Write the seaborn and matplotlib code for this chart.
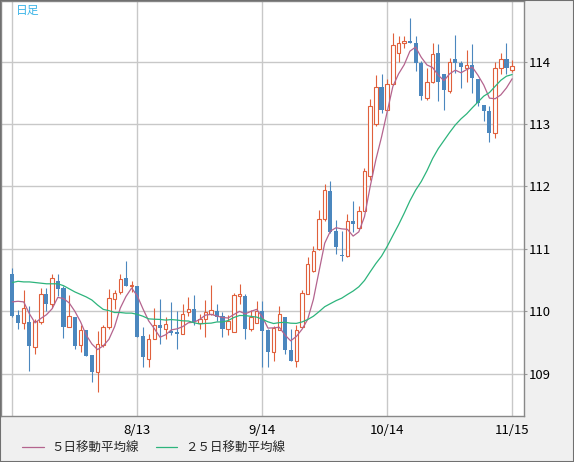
import numpy as np
import pandas as pd
import seaborn as sns
import matplotlib.pyplot as plt
from matplotlib.patches import Rectangle

# daily candles, index 0..88
opens = [110.60, 109.94, 109.81, 109.82, 109.43, 109.83, 110.27, 110.12, 110.48, 110.37,
         109.75, 109.90, 109.46, 109.70, 109.30, 109.02, 109.46, 109.74, 110.20, 110.31,
         110.53, 110.40, 110.40, 109.60, 109.24, 109.56, 109.78, 109.72, 109.69, 109.67,
         109.64, 109.98, 110.04, 109.81, 109.88, 109.96, 110.00, 109.93, 109.71, 109.67,
         110.25, 110.24, 109.71, 109.81, 110.00, 109.70, 109.35, 109.70, 109.91, 109.38,
         109.21, 109.75, 110.28, 110.65, 110.99, 111.48, 111.93, 111.28, 110.90, 110.88,
         111.45, 111.34, 111.61, 112.17, 113.00, 113.59, 113.22, 113.64, 114.14, 114.29,
         114.33, 114.30, 113.98, 113.41, 113.68, 114.13, 113.80, 113.53, 114.04, 113.98,
         113.90, 113.95, 113.72, 113.31, 113.21, 112.86, 113.89, 114.04, 113.86]
highs = [110.69, 110.02, 110.34, 110.08, 109.88, 110.38, 110.38, 110.60, 110.59, 110.40,
         110.26, 109.90, 109.78, 109.70, 109.30, 109.68, 109.78, 110.35, 110.34, 110.59,
         110.80, 110.49, 110.40, 109.75, 109.64, 110.06, 110.20, 109.91, 110.15, 110.00,
         110.12, 110.23, 110.26, 109.96, 110.18, 110.42, 110.12, 109.99, 109.94, 110.29,
         110.44, 110.28, 110.02, 110.16, 110.16, 109.72, 109.76, 110.08, 109.91, 109.71,
         109.78, 110.34, 110.87, 111.05, 111.62, 112.04, 112.08, 111.46, 111.29, 111.56,
         111.77, 111.69, 112.30, 113.40, 113.79, 113.80, 113.72, 114.45, 114.41, 114.41,
         114.69, 114.41, 114.01, 113.89, 114.29, 114.28, 113.80, 114.06, 114.42, 114.01,
         114.19, 114.28, 113.72, 113.31, 113.29, 114.00, 114.13, 114.29, 114.02]
lows = [109.90, 109.71, 109.71, 109.05, 109.31, 109.79, 110.00, 110.06, 110.24, 109.57,
        109.74, 109.39, 109.35, 109.29, 108.86, 108.71, 109.43, 109.71, 110.03, 110.28,
        110.40, 110.31, 109.59, 109.11, 109.11, 109.56, 109.48, 109.56, 109.62, 109.39,
        109.64, 109.92, 109.78, 109.72, 109.58, 109.94, 109.85, 109.59, 109.62, 109.67,
        110.12, 109.56, 109.69, 109.81, 109.11, 109.10, 109.21, 109.70, 109.32, 109.21,
        109.11, 109.75, 110.27, 110.63, 110.98, 111.45, 111.25, 110.92, 110.80, 110.87,
        111.27, 111.32, 111.60, 112.10, 112.97, 113.18, 113.22, 113.63, 114.00, 114.22,
        114.29, 113.85, 113.38, 113.38, 113.66, 113.37, 113.22, 113.50, 113.82, 113.58,
        113.67, 113.49, 113.29, 113.05, 112.71, 112.77, 113.80, 113.80, 113.84]
closes = [109.92, 109.81, 110.06, 109.44, 109.84, 110.27, 110.11, 110.54, 110.35, 109.75,
          109.92, 109.44, 109.70, 109.29, 109.03, 109.47, 109.74, 110.22, 110.30, 110.52,
          110.40, 110.42, 109.59, 109.26, 109.56, 109.78, 109.73, 109.79, 109.65, 109.64,
          109.96, 110.04, 109.83, 109.88, 109.98, 110.02, 109.91, 109.71, 109.84, 110.26,
          110.27, 109.71, 109.91, 110.00, 109.68, 109.35, 109.73, 109.96, 109.38, 109.21,
          109.70, 110.30, 110.76, 110.97, 111.48, 111.94, 111.27, 111.03, 110.88, 111.44,
          111.40, 111.61, 112.24, 113.29, 113.59, 113.22, 113.64, 114.27, 114.29, 114.33,
          114.30, 113.97, 113.45, 113.68, 114.12, 113.68, 113.54, 114.00, 113.97, 113.91,
          113.94, 113.73, 113.34, 113.20, 112.86, 113.89, 114.04, 113.90, 113.93]

# moving averages before enough candles are on screen
ma5_head = [110.15, 110.16, 110.15, 109.96]
ma25_head = [110.46, 110.48, 110.47, 110.47, 110.46, 110.45, 110.44, 110.44, 110.44, 110.41,
             110.36, 110.31, 110.27, 110.23, 110.18, 110.10, 110.03, 110.01, 109.98, 109.98,
             109.97, 109.97, 109.95, 109.92]

tick_pos = [0, 22, 44, 66, 88]
tick_labels = ['', '8/13', '9/14', '10/14', '11/15']
price_ticks = [109, 110, 111, 112, 113, 114]

df = pd.DataFrame({'open': opens, 'high': highs, 'low': lows, 'close': closes})
df['idx'] = np.arange(len(df))
df['ma5'] = df['close'].rolling(5).mean()
df.loc[:len(ma5_head) - 1, 'ma5'] = ma5_head
df['ma25'] = df['close'].rolling(25).mean()
df.loc[:len(ma25_head) - 1, 'ma25'] = ma25_head

RED = '#e0603c'
BLUE = '#4b87be'
PINK = '#b4648e'
GREEN = '#2db47c'

sns.set_style('white')
plt.rcParams['font.family'] = ['Noto Sans CJK JP', 'DejaVu Sans']

fig = plt.figure(figsize=(5.74, 4.62), dpi=100, facecolor='#f0f0f0')
ax = fig.add_axes([1 / 574, 46.5 / 462, 522.5 / 574, 414.5 / 462])
ax.set_facecolor('white')

up = df['close'] >= df['open']
dn = ~up

# wicks
ax.vlines(df['idx'][up], df['low'][up], df['high'][up], color=RED, lw=0.8, zorder=2)
ax.vlines(df['idx'][dn], df['low'][dn], df['high'][dn], color=BLUE, lw=0.8, zorder=2)

# bodies
body = (df['close'] - df['open']).abs().clip(lower=0.02)
bottom = df[['open', 'close']].min(axis=1)
ax.bar(df['idx'][up], body[up], bottom=bottom[up], width=0.62,
       facecolor='white', edgecolor=RED, linewidth=0.8, zorder=3)
ax.bar(df['idx'][dn], body[dn], bottom=bottom[dn], width=0.72,
       facecolor=BLUE, edgecolor=BLUE, linewidth=0, zorder=3)

# moving averages
sns.lineplot(data=df, x='idx', y='ma5', ax=ax, color=PINK, lw=0.9, zorder=4)
sns.lineplot(data=df, x='idx', y='ma25', ax=ax, color=GREEN, lw=0.9, zorder=4)

ax.set_xlim(-2.0, 90.0)
ax.set_ylim(108.33, 114.97)
ax.set_xticks(tick_pos)
ax.set_xticklabels(tick_labels)
ax.set_yticks(price_ticks)
ax.yaxis.tick_right()
ax.grid(True, color='#c8c8c8', lw=1.0, zorder=0)
ax.set_axisbelow(True)
ax.set_xlabel('')
ax.set_ylabel('')
ax.tick_params(axis='x', length=0, pad=6, labelsize=9.5, colors='black')
ax.tick_params(axis='y', length=2, width=0.8, color='#999999', pad=2,
               labelsize=9.5, labelcolor='black')
for s in ax.spines.values():
    s.set_color('#888888')
    s.set_linewidth(1.0)

fig.text(16 / 574, 1 - 10 / 462, '日足', color='#3db5e8', fontsize=8.5,
         va='center', ha='left')

handles = [plt.Line2D([], [], color=PINK, lw=0.9), plt.Line2D([], [], color=GREEN, lw=0.9)]
fig.legend(handles, ['５日移動平均線', '２５日移動平均線'], loc='center left',
           bbox_to_anchor=(16 / 574, 14 / 462), ncol=2, frameon=False, borderpad=0,
           fontsize=9, handlelength=1.7, handletextpad=0.6, columnspacing=1.4)

fig.patches.append(Rectangle((0, 0), 1, 1, transform=fig.transFigure, fill=False,
                             edgecolor='#707070', lw=1.5))

fig.savefig('out.png', dpi=100, facecolor=fig.get_facecolor())
